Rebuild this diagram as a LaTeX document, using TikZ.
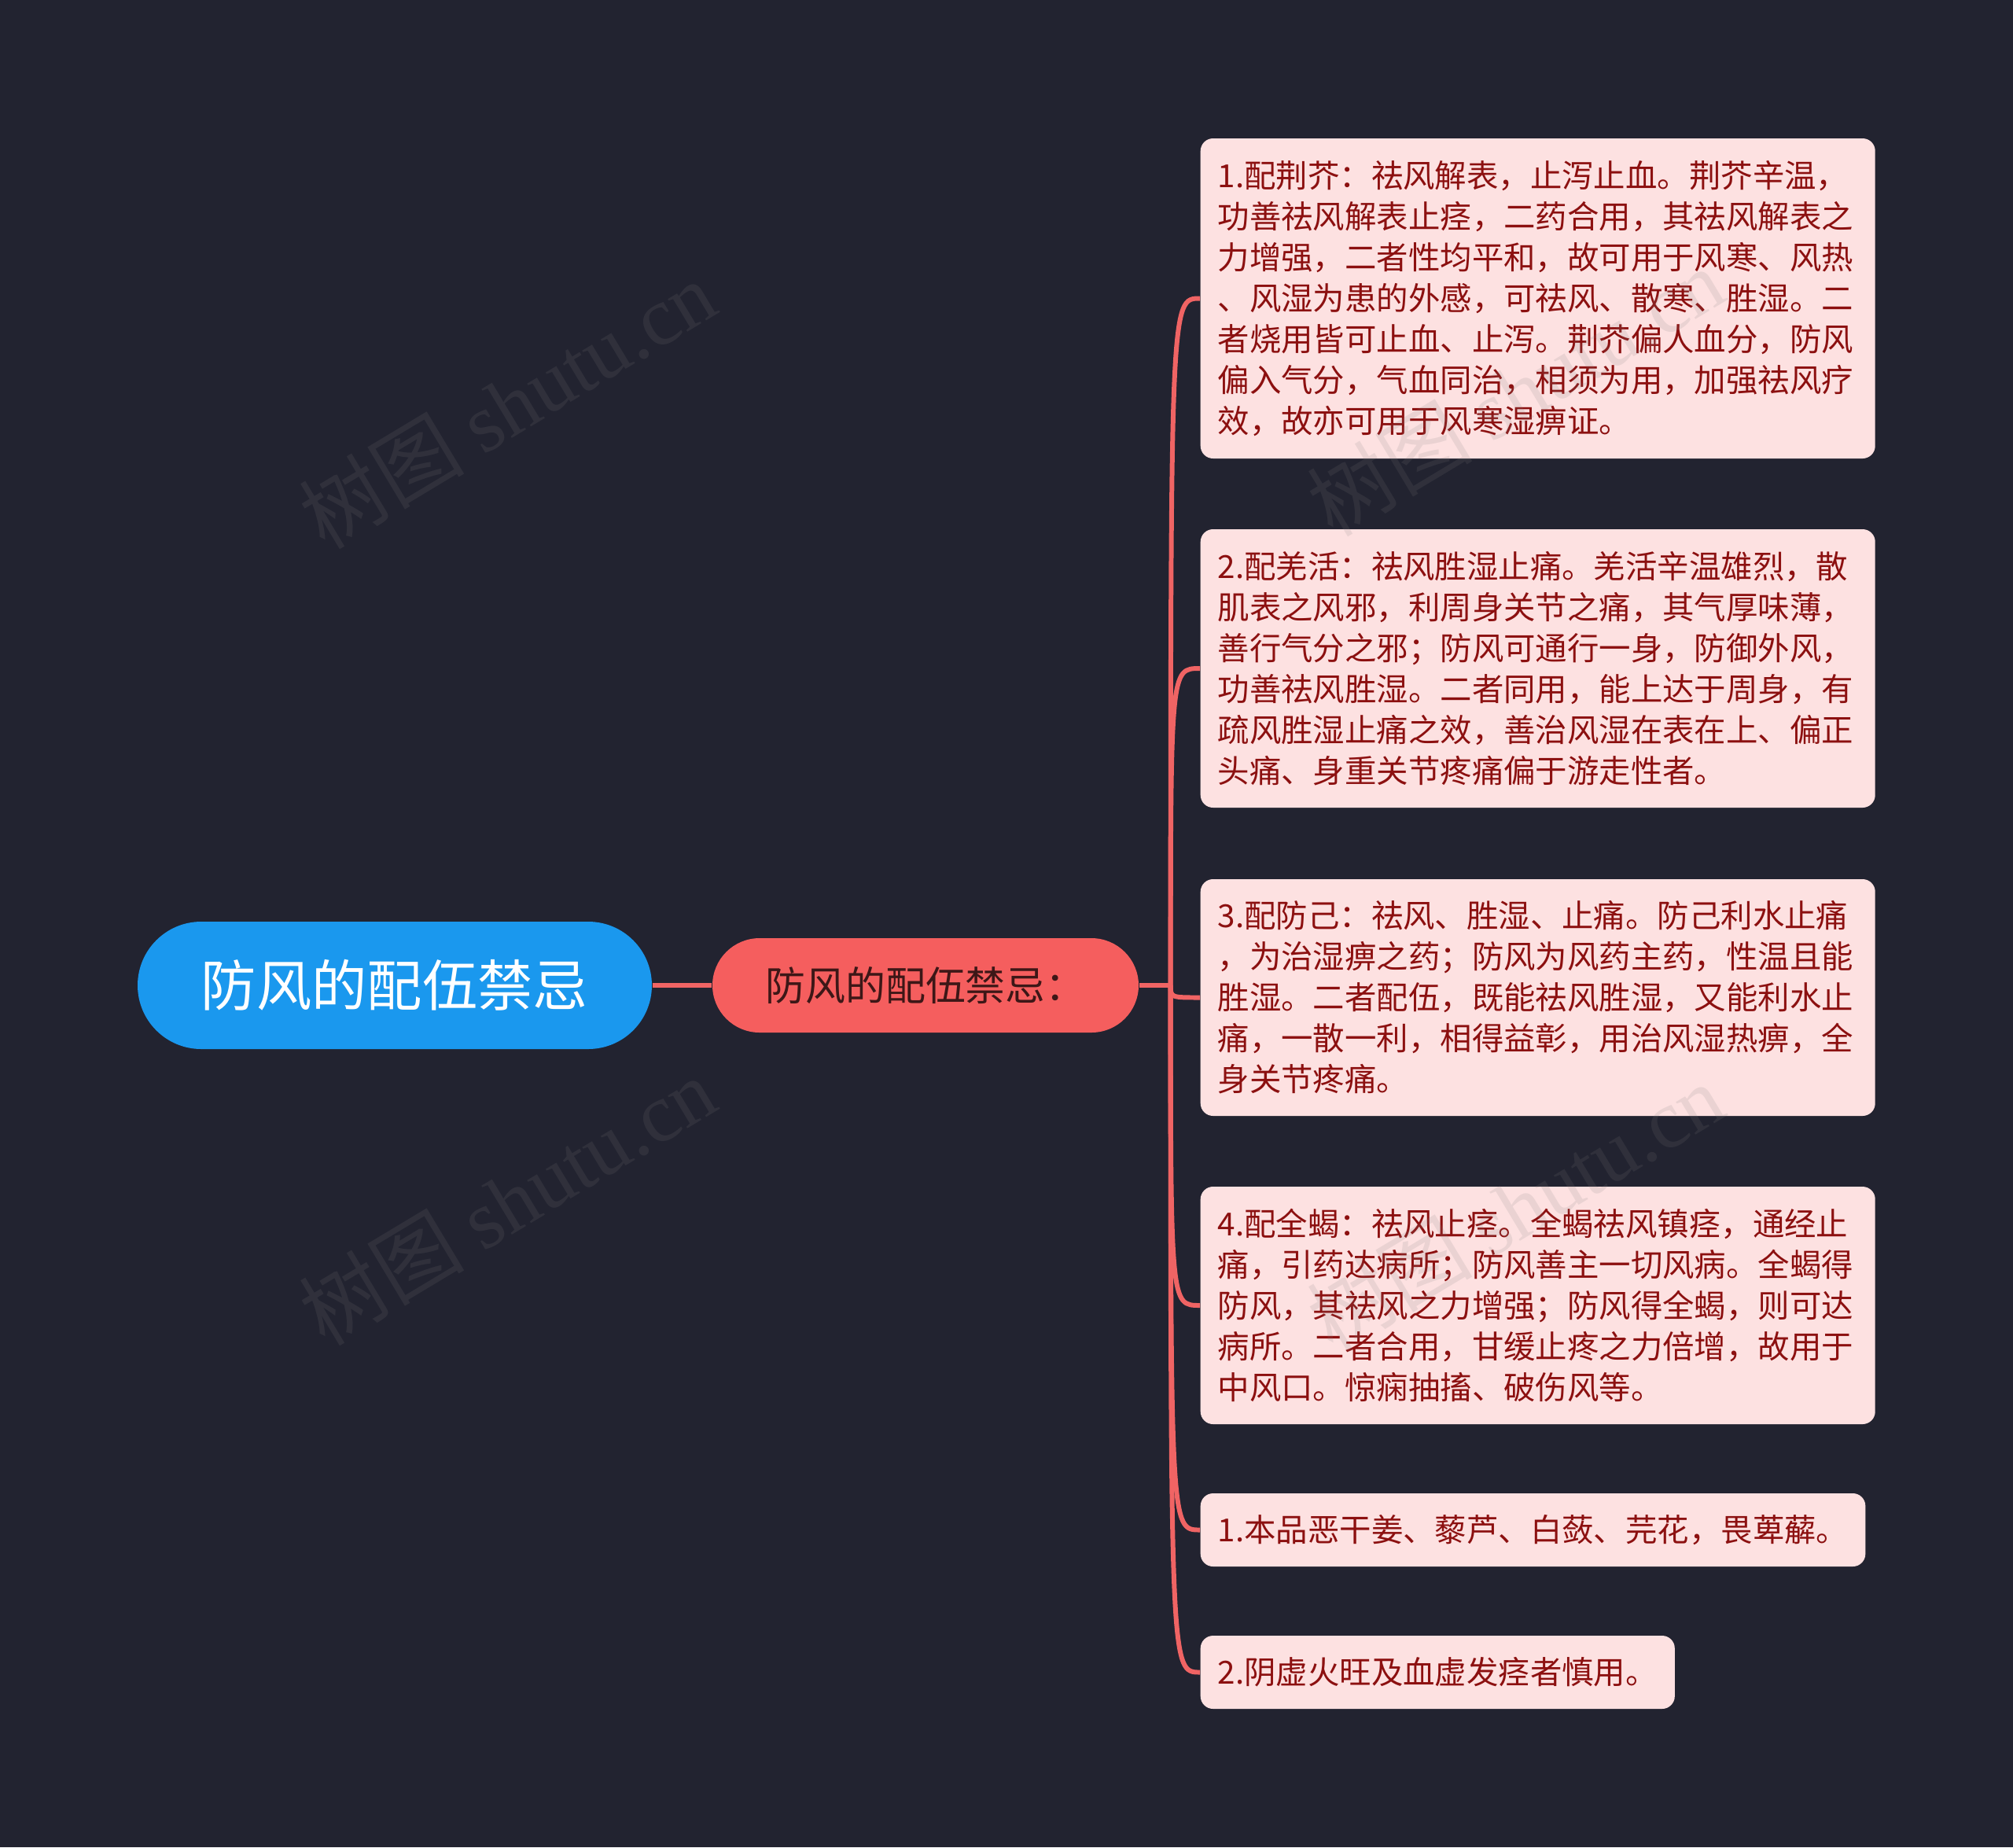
\documentclass[tikz,border=0pt]{standalone}
\usepackage{fontspec}
\setmainfont{Noto Sans CJK SC}
\newfontfamily\wmserif{Liberation Serif}
\definecolor{fondo}{HTML}{222330}
\definecolor{azul}{HTML}{1A98EE}
\definecolor{rojo}{HTML}{F55E5E}
\definecolor{rosa}{HTML}{FDE1E1}
\definecolor{vino}{HTML}{8C1010}
\definecolor{linea}{HTML}{F06464}
\begin{document}
\begin{tikzpicture}[x=1cm,y=-1cm,
    raiz/.style={fill=azul,text=white,rounded corners=0.81cm,minimum width=6.54cm,minimum height=1.62cm,font=\fontsize{20pt}{24pt}\selectfont},
    rama/.style={fill=rojo,text=black!75!rojo,rounded corners=0.6cm,minimum width=5.42cm,minimum height=1.2cm,font=\fontsize{14.5pt}{17pt}\selectfont},
    hoja/.style={fill=rosa,text=vino,rounded corners=0.16cm,anchor=west,align=left,inner xsep=0.22cm,font=\fontsize{11.5pt}{14.8pt}\selectfont},
    conector/.style={linea,line width=1.7pt},
    marca/.style={gray,opacity=0.15,rotate=31,font=\fontsize{30pt}{30pt}\selectfont}]
        % Fondo
        \fill[fondo] (0,0) rectangle (25.6,23.49);

        % Nodos principales
        \node[raiz] (raiz) at (5.02,12.53) {防风的配伍禁忌};
        \node[rama] (rama) at (11.77,12.53) {防风的配伍禁忌：};

        % Hojas
        \node[hoja,text width=8.14cm,minimum height=4.07cm] (h1) at (15.26,3.795) {1.配荆芥：祛风解表，止泻止血。荆芥辛温，\\功善祛风解表止痉，二药合用，其祛风解表之\\力增强，二者性均平和，故可用于风寒、风热\\、风湿为患的外感，可祛风、散寒、胜湿。二\\者烧用皆可止血、止泻。荆芥偏人血分，防风\\偏入气分，气血同治，相须为用，加强祛风疗\\效，故亦可用于风寒湿痹证。};
        \node[hoja,text width=8.14cm,minimum height=3.54cm] (h2) at (15.26,8.5) {2.配羌活：祛风胜湿止痛。羌活辛温雄烈，散\\肌表之风邪，利周身关节之痛，其气厚味薄，\\善行气分之邪；防风可通行一身，防御外风，\\功善祛风胜湿。二者同用，能上达于周身，有\\疏风胜湿止痛之效，善治风湿在表在上、偏正\\头痛、身重关节疼痛偏于游走性者。};
        \node[hoja,text width=8.14cm,minimum height=3.01cm] (h3) at (15.26,12.685) {3.配防己：祛风、胜湿、止痛。防己利水止痛\\，为治湿痹之药；防风为风药主药，性温且能\\胜湿。二者配伍，既能祛风胜湿，又能利水止\\痛，一散一利，相得益彰，用治风湿热痹，全\\身关节疼痛。};
        \node[hoja,text width=8.14cm,minimum height=3.02cm] (h4) at (15.26,16.6) {4.配全蝎：祛风止痉。全蝎祛风镇痉，通经止\\痛，引药达病所；防风善主一切风病。全蝎得\\防风，其祛风之力增强；防风得全蝎，则可达\\病所。二者合用，甘缓止疼之力倍增，故用于\\中风口。惊痫抽搐、破伤风等。};
        \node[hoja,minimum height=0.93cm] (h5) at (15.26,19.455) {1.本品恶干姜、藜芦、白蔹、芫花，畏萆薢。};
        \node[hoja,minimum height=0.93cm] (h6) at (15.26,21.265) {2.阴虚火旺及血虚发痉者慎用。};

        % Conectores
        \draw[conector] (raiz) -- (rama);
        \draw[conector] (rama.east) -- ++(0.4,0) coordinate (bus);
        \foreach \h in {h1,h2,h3,h4,h5,h6}
            \draw[conector] (bus) .. controls (bus |- \h.west) .. (\h.west);

        % Marcas de agua
        \node[marca] (m1) at (6.45,5.14) {树图 {\wmserif shutu.cn}};
        \node[marca] (m2) at (6.45,15.27) {树图 {\wmserif shutu.cn}};
        \node[marca] (m3) at (19.27,4.98) {树图 {\wmserif shutu.cn}};
        \node[marca] (m4) at (19.27,15.35) {树图 {\wmserif shutu.cn}};
\end{tikzpicture}
\end{document}
